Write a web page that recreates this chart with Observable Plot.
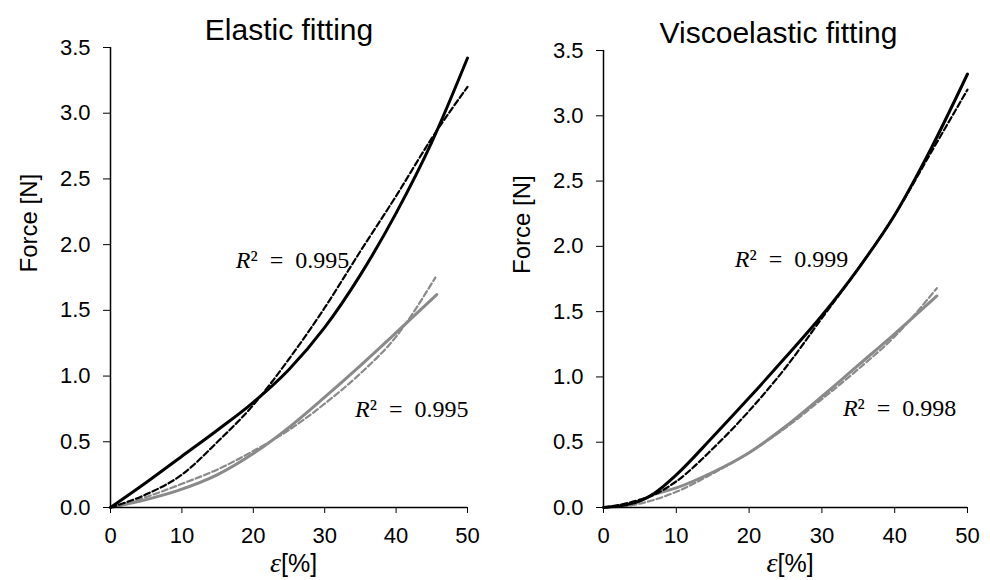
<!DOCTYPE html>
<html><head><meta charset="utf-8">
<script src="https://cdn.jsdelivr.net/npm/d3@7"></script>
<script src="https://cdn.jsdelivr.net/npm/@observablehq/plot@0.6"></script>
<style>
html,body{margin:0;padding:0;background:#fff;}
#wrap{display:flex;width:990px;height:580px;}
#wrap svg{overflow:visible;}
#wrap svg g[aria-label*="axis"], #wrap svg g[aria-label*="axis"] text{font-size:22px !important;}
</style></head><body><div id="wrap"></div>
<script>
// ---- ticks & labels ----
const xTicks = [0, 10, 20, 30, 40, 50];
const yTicks = [0, 0.5, 1, 1.5, 2, 2.5, 3, 3.5];
const panelTitles = ["Elastic fitting", "Viscoelastic fitting"];
const yLabel = "Force [N]";

// ---- Elastic fitting panel ----
const elBlackX   = [0, 5, 10, 15, 20, 25, 30, 35, 40, 45, 50];
const elBlackExp = [0, 0.19, 0.39, 0.59, 0.80, 1.05, 1.37, 1.77, 2.24, 2.78, 3.42];
const elBlackFit = [0, 0.10, 0.25, 0.50, 0.78, 1.13, 1.52, 1.95, 2.37, 2.81, 3.20];
const elGrayExpX = [0, 5, 9.5, 15, 20, 25, 30, 35, 40, 45.7];
const elGrayExp  = [0, 0.06, 0.13, 0.25, 0.41, 0.61, 0.84, 1.08, 1.33, 1.62];
const elGrayFitX = [0, 5, 10, 15, 20, 25, 30, 35, 40, 45.5];
const elGrayFit  = [0, 0.08, 0.18, 0.29, 0.43, 0.59, 0.79, 1.02, 1.30, 1.75];
const elR2       = ["0.995", "0.995"];
const elR2X      = [19.6, 36.3];
const elR2Y      = [1.82, 0.685];

// ---- Viscoelastic fitting panel ----
const veBlackX   = [0, 3, 5, 7, 10, 15, 20, 25, 30, 35, 40, 45, 50];
const veBlackExp = [0, 0.02, 0.05, 0.11, 0.25, 0.54, 0.84, 1.15, 1.47, 1.83, 2.24, 2.75, 3.32];
const veBlackFit = [0, 0.03, 0.06, 0.10, 0.20, 0.45, 0.74, 1.07, 1.45, 1.83, 2.24, 2.72, 3.20];
const veGrayExpX = [0, 3, 5, 7, 10, 15, 20, 25, 30, 35, 40, 45.8];
const veGrayExp  = [0, 0.02, 0.05, 0.10, 0.15, 0.27, 0.42, 0.62, 0.85, 1.09, 1.33, 1.62];
const veGrayFitX = [0, 3, 5, 10, 15, 20, 25, 30, 35, 40, 45.8];
const veGrayFit  = [0, 0.01, 0.03, 0.12, 0.26, 0.42, 0.61, 0.83, 1.06, 1.31, 1.68];
const veR2       = ["0.999", "0.998"];
const veR2X      = [20.05, 34.9];
const veR2Y      = [1.84, 0.70];

const BLACK = "#000000", GRAY = "#8a8a8a";
const SERIF = "'Liberation Serif', 'DejaVu Serif', serif";
const toPts = (xs, ys) => xs.map((x, i) => ({x, y: ys[i]}));

function panel(cfg) {
  const lines = cfg.series.map(s =>
    Plot.line(toPts(s.xs, s.ys), {
      x: "x", y: "y", stroke: s.color, strokeWidth: s.w,
      strokeDasharray: s.dash, curve: "monotone-x"
    }));
  const r2 = cfg.r2.map((v, i) => ({x: cfg.r2x[i], y: cfg.r2y[i], t: "\u00B2\u2002=\u2002" + v}));
  return Plot.plot({
    width: cfg.width, height: 580,
    marginLeft: cfg.ml, marginRight: cfg.mr, marginTop: cfg.mt, marginBottom: 73,
    style: {fontFamily: "'Liberation Sans', Arial, sans-serif", fontSize: "22px", color: "#000", background: "#fff"},
    x: {domain: [0, 50], ticks: xTicks, tickSize: 6, tickPadding: 14, label: null},
    y: {domain: [0, 3.5], ticks: yTicks, tickFormat: d3.format(".1f"), tickSize: 7, tickPadding: 13, label: null},
    marks: [
      ...lines,
      Plot.ruleX([0], {stroke: "#000", strokeWidth: 1.5}),
      Plot.ruleY([0], {stroke: "#000", strokeWidth: 1.5}),
      Plot.text([cfg.title], {frameAnchor: "top", lineAnchor: "bottom", dy: -8, dx: cfg.titleDx, fontSize: 30}),
      Plot.text([yLabel], {frameAnchor: "left", rotate: -90, dx: -81, dy: -5, fontSize: 24}),
      Plot.text(["\u03B5"], {frameAnchor: "bottom", lineAnchor: "middle", dy: 56, dx: -8, textAnchor: "end",
        fontSize: 28, fontStyle: "italic", fontFamily: SERIF}),
      Plot.text(["[%]"], {frameAnchor: "bottom", lineAnchor: "middle", dy: 56, dx: -8, textAnchor: "start", fontSize: 25}),
      Plot.text(r2, {x: "x", y: "y", text: () => "R", textAnchor: "end", lineAnchor: "bottom",
        fontSize: 24, fontStyle: "italic", fontFamily: SERIF}),
      Plot.text(r2, {x: "x", y: "y", text: "t", textAnchor: "start", lineAnchor: "bottom",
        fontSize: 24, fontFamily: SERIF})
    ]
  });
}

const left = panel({
  width: 495, ml: 110, mr: 28, mt: 47, title: panelTitles[0], titleDx: 0,
  series: [
    {xs: elGrayExpX, ys: elGrayExp, color: GRAY, w: 3},
    {xs: elGrayFitX, ys: elGrayFit, color: GRAY, w: 2.2, dash: "6,3"},
    {xs: elBlackX, ys: elBlackExp, color: BLACK, w: 3},
    {xs: elBlackX, ys: elBlackFit, color: BLACK, w: 2.2, dash: "6,3"}
  ],
  r2: elR2, r2x: elR2X, r2y: elR2Y
});
const right = panel({
  width: 495, ml: 108, mr: 23, mt: 50, title: panelTitles[1], titleDx: -7,
  series: [
    {xs: veGrayExpX, ys: veGrayExp, color: GRAY, w: 3},
    {xs: veGrayFitX, ys: veGrayFit, color: GRAY, w: 2.2, dash: "6,3"},
    {xs: veBlackX, ys: veBlackExp, color: BLACK, w: 3},
    {xs: veBlackX, ys: veBlackFit, color: BLACK, w: 2.2, dash: "6,3"}
  ],
  r2: veR2, r2x: veR2X, r2y: veR2Y
});
document.getElementById("wrap").append(left, right);
</script></body></html>
